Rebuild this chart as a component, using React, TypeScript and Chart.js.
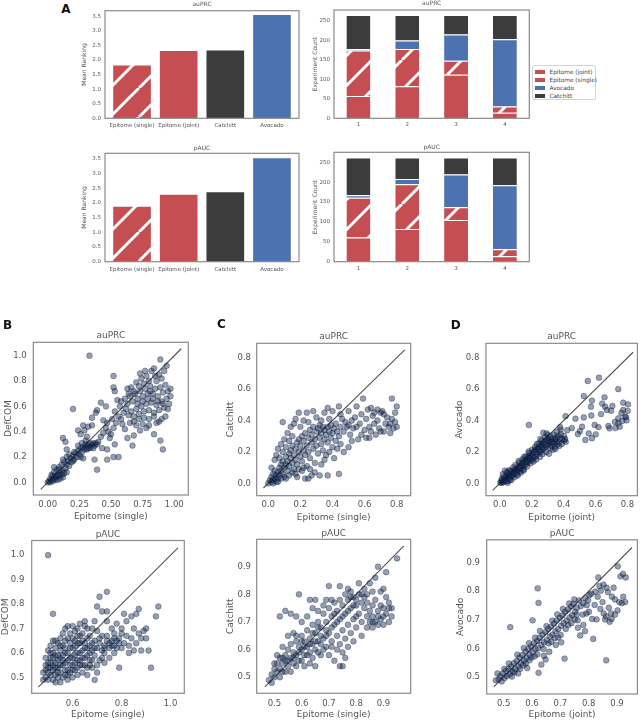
import React, { useEffect, useRef } from "react";
import { Chart, registerables } from "chart.js";

Chart.register(...registerables);

const FONT = "'DejaVu Sans', 'Liberation Sans', sans-serif";
const TEXT = "#555555";
const RED = "#C44E52";
const BLUE = "#4C72B0";
const DARK = "#3C3C3C";

// ---------- Panel A data ----------
const rankMethods = ["Epitome (single)", "Epitome (joint)", "Catchitt", "Avocado"];
const rankAuprc = [1.8, 2.3, 2.31, 3.53];
const rankPauc = [1.86, 2.27, 2.35, 3.51];
const rankTicks = [0, 0.5, 1, 1.5, 2, 2.5, 3, 3.5];
const rankSlots = [0, 1, 2, 3];

const rankPositions = ["1", "2", "3", "4"];
const stackMethods = ["Epitome (joint)", "Epitome (single)", "Avocado", "Catchitt"];
const auprcJoint = [57, 82, 112, 14];
const auprcSingle = [117, 96, 36, 16];
const auprcAvocado = [3, 22, 67, 173];
const auprcCatchitt = [88, 65, 50, 62];
const paucJoint = [61, 82, 105, 14];
const paucSingle = [100, 113, 32, 17];
const paucAvocado = [6, 13, 82, 161];
const paucCatchitt = [95, 54, 43, 70];
const countTicks = [0, 50, 100, 150, 200, 250];

// ---------- Scatter data ----------
const bAuprc = [
  [0.00,0.00],[0.01,0.01],[0.02,0.03],[0.02,0.00],[0.03,0.02],[0.04,0.05],[0.04,0.01],[0.05,0.03],[0.06,0.05],[0.06,0.02],
  [0.07,0.04],[0.08,0.06],[0.08,0.02],[0.09,0.05],[0.10,0.08],[0.10,0.03],[0.11,0.06],[0.12,0.09],[0.12,0.04],[0.13,0.07],
  [0.14,0.11],[0.15,0.08],[0.03,0.06],[0.05,0.08],[0.07,0.10],[0.09,0.12],[0.05,0.12],[0.09,0.10],[0.11,0.14],[0.13,0.16],
  [0.15,0.14],[0.16,0.17],[0.17,0.13],[0.18,0.19],[0.19,0.16],[0.20,0.21],[0.21,0.18],[0.22,0.23],[0.23,0.20],[0.24,0.25],
  [0.25,0.22],[0.26,0.27],[0.27,0.24],[0.28,0.28],[0.29,0.26],[0.30,0.30],[0.31,0.27],[0.32,0.29],[0.33,0.31],[0.34,0.28],
  [0.35,0.30],[0.36,0.31],[0.37,0.29],[0.38,0.31],[0.39,0.30],[0.40,0.32],[0.24,0.29],[0.27,0.31],[0.30,0.33],[0.33,0.27],
  [0.36,0.27],[0.21,0.24],[0.26,0.20],[0.12,0.35],[0.14,0.32],[0.15,0.26],[0.17,0.22],[0.12,0.18],[0.15,0.20],[0.20,0.17],
  [0.24,0.41],[0.28,0.45],[0.32,0.44],[0.35,0.45],[0.29,0.41],[0.35,0.51],[0.39,0.57],[0.42,0.63],[0.46,0.60],[0.38,0.55],
  [0.44,0.49],[0.47,0.47],[0.51,0.50],[0.53,0.56],[0.55,0.65],[0.57,0.60],[0.20,0.58],[0.33,1.00],[0.52,0.84],[0.52,0.75],
  [0.53,0.72],[0.26,0.38],[0.31,0.36],[0.37,0.18],[0.39,0.10],[0.47,0.18],[0.52,0.20],[0.56,0.20],[0.53,0.30],[0.43,0.27],
  [0.47,0.26],[0.31,0.26],[0.28,0.19],[0.42,0.36],[0.44,0.39],[0.46,0.43],[0.48,0.40],[0.50,0.38],[0.49,0.35],[0.52,0.43],
  [0.54,0.47],[0.56,0.52],[0.58,0.50],[0.60,0.55],[0.59,0.46],[0.62,0.58],[0.61,0.42],[0.67,0.29],[0.63,0.35],[0.68,0.37],
  [0.73,0.41],[0.78,0.43],[0.84,0.38],[0.89,0.33],[0.91,0.26],[0.86,0.47],[0.88,0.48],[0.80,0.45],[0.75,0.46],[0.70,0.45],
  [0.65,0.47],[0.64,0.53],[0.66,0.56],[0.68,0.52],[0.70,0.58],[0.72,0.54],[0.74,0.60],[0.76,0.56],[0.78,0.62],[0.80,0.57],
  [0.82,0.63],[0.84,0.55],[0.86,0.61],[0.88,0.57],[0.90,0.64],[0.92,0.59],[0.94,0.66],[0.96,0.62],[0.63,0.62],[0.65,0.68],
  [0.67,0.64],[0.69,0.70],[0.71,0.66],[0.73,0.72],[0.75,0.68],[0.77,0.74],[0.79,0.70],[0.81,0.76],[0.83,0.70],[0.85,0.74],
  [0.87,0.68],[0.89,0.75],[0.91,0.71],[0.93,0.77],[0.95,0.72],[0.97,0.68],[0.66,0.75],[0.70,0.79],[0.74,0.82],[0.78,0.84],
  [0.82,0.88],[0.86,0.80],[0.88,0.85],[0.90,0.82],[0.92,0.88],[0.94,0.92],[0.89,0.97],[0.84,0.90],[0.80,0.80],[0.76,0.78],
  [0.72,0.76],[0.68,0.72],[0.64,0.70],[0.61,0.66],[0.58,0.64],[0.71,0.62],[0.75,0.64],[0.79,0.66],[0.83,0.66],[0.87,0.64],
  [0.91,0.62],[0.95,0.58],[0.93,0.52],[0.90,0.50],[0.84,0.52],[0.80,0.50],[0.76,0.51],[0.72,0.50],[0.68,0.48],[0.97,0.74],
  [0.73,0.86],[0.77,0.88],[0.81,0.72],[0.85,0.84],[0.63,0.74]
];
const bPauc = [
  [0.48,0.49],[0.49,0.50],[0.50,0.49],[0.50,0.52],[0.51,0.51],[0.51,0.54],[0.52,0.49],[0.52,0.53],[0.53,0.51],[0.53,0.56],
  [0.54,0.50],[0.54,0.54],[0.55,0.52],[0.55,0.58],[0.56,0.50],[0.56,0.55],[0.57,0.53],[0.57,0.60],[0.58,0.51],[0.58,0.57],
  [0.59,0.55],[0.59,0.62],[0.60,0.53],[0.60,0.58],[0.61,0.56],[0.61,0.63],[0.62,0.54],[0.62,0.60],[0.63,0.57],[0.63,0.64],
  [0.64,0.55],[0.64,0.61],[0.65,0.58],[0.66,0.62],[0.66,0.54],[0.67,0.60],[0.68,0.57],[0.68,0.64],[0.69,0.59],[0.70,0.62],
  [0.70,0.55],[0.71,0.64],[0.72,0.58],[0.72,0.61],[0.73,0.63],[0.49,0.53],[0.50,0.56],[0.51,0.58],[0.52,0.60],[0.53,0.62],
  [0.54,0.64],[0.55,0.61],[0.56,0.63],[0.57,0.65],[0.58,0.66],[0.49,0.58],[0.50,0.61],[0.51,0.63],[0.52,0.65],[0.53,0.59],
  [0.55,0.66],[0.56,0.68],[0.57,0.70],[0.58,0.71],[0.59,0.68],[0.60,0.66],[0.61,0.69],[0.62,0.70],[0.63,0.72],[0.64,0.68],
  [0.65,0.73],[0.66,0.70],[0.67,0.67],[0.68,0.70],[0.69,0.73],[0.70,0.79],[0.71,0.83],[0.74,0.85],[0.72,0.77],[0.74,0.77],
  [0.74,0.73],[0.50,1.00],[0.52,0.76],[0.54,0.57],[0.56,0.59],[0.58,0.60],[0.60,0.62],[0.62,0.64],[0.64,0.65],[0.66,0.66],
  [0.52,0.55],[0.54,0.52],[0.57,0.56],[0.59,0.58],[0.61,0.59],[0.63,0.60],[0.65,0.62],[0.67,0.63],[0.69,0.65],[0.71,0.66],
  [0.73,0.60],[0.75,0.62],[0.76,0.65],[0.77,0.68],[0.78,0.62],[0.79,0.66],[0.80,0.70],[0.81,0.64],[0.82,0.67],[0.83,0.63],
  [0.84,0.66],[0.85,0.70],[0.86,0.64],[0.87,0.68],[0.88,0.61],[0.90,0.70],[0.90,0.66],[0.91,0.61],[0.86,0.76],[0.84,0.75],
  [0.81,0.76],[0.87,0.78],[0.95,0.79],[0.94,0.75],[0.92,0.54],[0.79,0.54],[0.75,0.58],[0.77,0.60],[0.74,0.67],[0.76,0.70],
  [0.78,0.72],[0.80,0.68],[0.82,0.73],[0.80,0.62],[0.83,0.60],[0.70,0.52],[0.69,0.49],[0.66,0.51],[0.64,0.52],[0.62,0.51],
  [0.60,0.50],[0.58,0.49],[0.55,0.48],[0.53,0.48],[0.68,0.54],[0.67,0.57],[0.71,0.57],[0.73,0.56],[0.76,0.63],[0.78,0.65],
  [0.72,0.67],[0.70,0.69],[0.65,0.64],[0.63,0.67],[0.61,0.65],[0.59,0.64],[0.57,0.62],[0.55,0.63],[0.53,0.65],[0.51,0.60],
  [0.48,0.52],[0.49,0.55],[0.50,0.54],[0.51,0.56],[0.52,0.58],[0.53,0.54],[0.54,0.59],[0.55,0.55],[0.56,0.57],[0.57,0.51],
  [0.58,0.53],[0.59,0.52],[0.60,0.55],[0.61,0.53],[0.62,0.57],[0.63,0.55],[0.64,0.58],[0.65,0.55],[0.66,0.59],[0.67,0.55],
  [0.68,0.61],[0.69,0.62],[0.73,0.62],[0.75,0.64],[0.77,0.63],[0.79,0.64],[0.74,0.65],[0.85,0.61],[0.88,0.66],[0.89,0.69],
  [0.77,0.66],[0.60,0.71],[0.65,0.71],[0.62,0.67]
];
const cAuprc = [
  [0.00,0.00],[0.01,0.02],[0.02,0.01],[0.02,0.04],[0.03,0.02],[0.03,0.06],[0.04,0.03],[0.04,0.08],[0.05,0.05],[0.05,0.01],
  [0.06,0.07],[0.06,0.03],[0.07,0.10],[0.07,0.05],[0.08,0.08],[0.08,0.12],[0.09,0.06],[0.09,0.14],[0.10,0.10],[0.10,0.04],
  [0.11,0.12],[0.11,0.17],[0.12,0.08],[0.12,0.14],[0.13,0.19],[0.13,0.11],[0.14,0.16],[0.14,0.21],[0.15,0.13],[0.15,0.24],
  [0.16,0.18],[0.16,0.09],[0.17,0.22],[0.17,0.15],[0.18,0.26],[0.18,0.12],[0.19,0.20],[0.19,0.28],[0.20,0.17],[0.20,0.24],
  [0.21,0.14],[0.21,0.30],[0.22,0.21],[0.22,0.27],[0.23,0.18],[0.23,0.32],[0.24,0.24],[0.24,0.11],[0.25,0.29],[0.25,0.20],
  [0.26,0.34],[0.26,0.16],[0.27,0.26],[0.27,0.31],[0.28,0.22],[0.28,0.36],[0.29,0.28],[0.29,0.13],[0.30,0.33],[0.30,0.24],
  [0.31,0.19],[0.31,0.35],[0.32,0.29],[0.32,0.37],[0.33,0.25],[0.33,0.32],[0.34,0.21],[0.34,0.36],[0.35,0.28],[0.35,0.34],
  [0.36,0.31],[0.36,0.18],[0.37,0.36],[0.37,0.26],[0.38,0.33],[0.39,0.29],[0.39,0.37],[0.40,0.23],[0.40,0.32],[0.41,0.35],
  [0.42,0.27],[0.42,0.38],[0.43,0.33],[0.44,0.30],[0.45,0.36],[0.45,0.25],[0.02,0.10],[0.04,0.15],[0.05,0.18],[0.06,0.22],
  [0.07,0.16],[0.08,0.25],[0.09,0.20],[0.09,0.39],[0.10,0.28],[0.11,0.23],[0.12,0.32],[0.13,0.27],[0.14,0.36],[0.15,0.30],
  [0.16,0.38],[0.17,0.41],[0.19,0.45],[0.20,0.36],[0.22,0.40],[0.24,0.45],[0.25,0.39],[0.28,0.46],[0.30,0.42],[0.33,0.40],
  [0.35,0.45],[0.37,0.48],[0.40,0.46],[0.44,0.49],[0.45,0.44],[0.38,0.41],[0.03,0.00],[0.06,0.01],[0.08,0.03],[0.11,0.03],
  [0.13,0.05],[0.15,0.07],[0.17,0.06],[0.19,0.09],[0.21,0.08],[0.23,0.03],[0.25,0.03],[0.27,0.05],[0.32,0.05],[0.37,0.05],
  [0.44,0.06],[0.22,0.10],[0.18,0.04],[0.26,0.09],[0.29,0.07],[0.33,0.12],[0.35,0.15],[0.38,0.20],[0.41,0.16],[0.43,0.22],
  [0.47,0.20],[0.50,0.23],[0.52,0.27],[0.47,0.33],[0.48,0.39],[0.49,0.36],[0.50,0.46],[0.51,0.31],[0.52,0.40],[0.53,0.35],
  [0.54,0.42],[0.55,0.49],[0.56,0.28],[0.57,0.38],[0.58,0.44],[0.59,0.54],[0.60,0.34],[0.61,0.29],[0.61,0.41],[0.62,0.47],
  [0.63,0.36],[0.64,0.33],[0.65,0.43],[0.66,0.38],[0.67,0.31],[0.68,0.47],[0.68,0.40],[0.69,0.35],[0.70,0.45],[0.71,0.46],
  [0.72,0.33],[0.73,0.38],[0.74,0.42],[0.75,0.36],[0.76,0.32],[0.77,0.54],[0.77,0.41],[0.78,0.35],[0.79,0.39],[0.80,0.49],
  [0.80,0.36],[0.79,0.45],[0.55,0.36],[0.58,0.31],[0.63,0.29],[0.46,0.41],[0.50,0.37],[0.72,0.44],[0.66,0.45],[0.76,0.38],
  [0.70,0.33],[0.64,0.48]
];
const cPauc = [
  [0.48,0.49],[0.49,0.51],[0.50,0.50],[0.51,0.52],[0.50,0.55],[0.52,0.53],[0.52,0.57],[0.53,0.55],[0.53,0.52],[0.54,0.58],
  [0.54,0.56],[0.55,0.54],[0.55,0.60],[0.56,0.57],[0.56,0.62],[0.57,0.55],[0.57,0.59],[0.58,0.58],[0.58,0.63],[0.59,0.56],
  [0.59,0.61],[0.60,0.60],[0.60,0.65],[0.61,0.58],[0.61,0.63],[0.62,0.61],[0.62,0.67],[0.63,0.59],[0.63,0.64],[0.64,0.62],
  [0.64,0.69],[0.65,0.60],[0.65,0.66],[0.66,0.63],[0.66,0.70],[0.67,0.58],[0.67,0.68],[0.68,0.64],[0.68,0.73],[0.69,0.61],
  [0.69,0.70],[0.70,0.66],[0.70,0.75],[0.71,0.63],[0.71,0.72],[0.72,0.69],[0.72,0.77],[0.73,0.65],[0.73,0.74],[0.74,0.71],
  [0.74,0.78],[0.75,0.67],[0.75,0.76],[0.76,0.73],[0.76,0.80],[0.77,0.69],[0.77,0.78],[0.78,0.75],[0.78,0.81],[0.79,0.71],
  [0.79,0.79],[0.80,0.76],[0.80,0.68],[0.81,0.80],[0.81,0.73],[0.82,0.77],[0.82,0.70],[0.83,0.75],[0.83,0.79],[0.84,0.72],
  [0.84,0.77],[0.85,0.74],[0.85,0.70],[0.86,0.76],[0.86,0.72],[0.87,0.70],[0.87,0.86],[0.88,0.74],[0.88,0.90],[0.89,0.71],
  [0.89,0.81],[0.90,0.75],[0.90,0.69],[0.91,0.88],[0.91,0.73],[0.92,0.77],[0.92,0.70],[0.93,0.75],[0.95,0.93],[0.90,0.82],
  [0.85,0.84],[0.81,0.84],[0.77,0.82],[0.74,0.83],[0.70,0.83],[0.59,0.80],[0.52,0.72],[0.54,0.74],[0.56,0.73],[0.58,0.72],
  [0.57,0.66],[0.60,0.70],[0.62,0.72],[0.64,0.75],[0.66,0.74],[0.68,0.76],[0.69,0.78],[0.71,0.78],[0.63,0.78],[0.65,0.78],
  [0.55,0.65],[0.53,0.61],[0.51,0.58],[0.52,0.50],[0.56,0.52],[0.58,0.54],[0.60,0.56],[0.61,0.54],[0.63,0.55],[0.64,0.57],
  [0.65,0.54],[0.66,0.59],[0.67,0.62],[0.68,0.60],[0.69,0.65],[0.70,0.58],[0.71,0.61],[0.72,0.56],[0.73,0.60],[0.74,0.54],
  [0.74,0.62],[0.75,0.54],[0.75,0.59],[0.76,0.57],[0.76,0.64],[0.77,0.61],[0.78,0.66],[0.79,0.63],[0.80,0.72],[0.82,0.65],
  [0.84,0.68],[0.86,0.68],[0.88,0.69],[0.89,0.76],[0.91,0.79],[0.93,0.72],[0.87,0.78],[0.83,0.82],[0.79,0.76],[0.77,0.74],
  [0.73,0.70],[0.71,0.68],[0.69,0.67],[0.67,0.65],[0.65,0.63],[0.63,0.62],[0.61,0.61],[0.59,0.59],[0.57,0.57],[0.55,0.56],
  [0.53,0.57],[0.51,0.55],[0.50,0.53],[0.49,0.48],[0.54,0.52],[0.62,0.58],[0.72,0.73],[0.75,0.72],[0.78,0.79],[0.80,0.78],
  [0.82,0.80],[0.84,0.80],[0.86,0.81],[0.90,0.72],[0.92,0.75],[0.88,0.72],[0.86,0.70],[0.66,0.68],[0.64,0.66],[0.60,0.63],
  [0.58,0.65]
];
const dAuprc = [
  [0.003,0.004],[0.008,0.012],[0.012,0.002],[0.016,0.021],[0.021,0.009],[0.027,0.018],[0.031,0.033],[0.036,0.024],[0.040,0.047],[0.046,0.031],
  [0.052,0.014],[0.055,0.052],[0.061,0.036],[0.066,0.061],[0.071,0.043],[0.077,0.072],[0.082,0.051],[0.087,0.083],[0.092,0.064],[0.098,0.091],
  [0.103,0.071],[0.108,0.082],[0.113,0.104],[0.119,0.097],[0.124,0.076],[0.128,0.113],[0.133,0.092],[0.139,0.126],[0.144,0.104],[0.149,0.137],
  [0.153,0.112],[0.158,0.149],[0.164,0.121],[0.169,0.157],[0.173,0.134],[0.178,0.168],[0.184,0.142],[0.189,0.176],[0.193,0.153],[0.199,0.187],
  [0.204,0.148],[0.209,0.196],[0.214,0.163],[0.219,0.211],[0.224,0.172],[0.229,0.218],[0.234,0.184],[0.241,0.227],[0.245,0.196],[0.251,0.238],
  [0.256,0.203],[0.262,0.246],[0.266,0.214],[0.271,0.257],[0.276,0.222],[0.282,0.266],[0.287,0.232],[0.292,0.278],[0.297,0.241],[0.303,0.287],
  [0.307,0.252],[0.312,0.263],[0.316,0.224],[0.322,0.274],[0.326,0.238],[0.332,0.285],[0.337,0.253],[0.342,0.262],[0.346,0.232],[0.352,0.274],
  [0.356,0.293],[0.361,0.248],[0.366,0.304],[0.371,0.262],[0.376,0.284],[0.382,0.313],[0.391,0.281],[0.402,0.302],[0.413,0.264],[0.018,0.058],
  [0.043,0.071],[0.058,0.083],[0.083,0.102],[0.097,0.118],[0.122,0.131],[0.141,0.153],[0.162,0.172],[0.183,0.193],[0.203,0.214],[0.221,0.232],
  [0.243,0.254],[0.262,0.273],[0.283,0.294],[0.301,0.309],[0.272,0.322],[0.293,0.318],[0.254,0.283],[0.232,0.251],[0.181,0.204],[0.152,0.168],
  [0.118,0.142],[0.032,0.081],[0.051,0.068],[0.048,0.003],[0.072,0.021],[0.091,0.038],[0.112,0.049],[0.131,0.068],[0.151,0.088],[0.171,0.107],
  [0.192,0.128],[0.211,0.139],[0.228,0.152],[0.252,0.168],[0.268,0.187],[0.291,0.199],[0.308,0.188],[0.331,0.213],[0.348,0.219],[0.372,0.238],
  [0.388,0.251],[0.404,0.273],[0.182,0.372],[0.412,0.428],[0.381,0.342],[0.422,0.338],[0.409,0.283],[0.378,0.358],[0.357,0.327],[0.338,0.309],
  [0.318,0.298],[0.011,0.028],[0.024,0.041],[0.034,0.012],[0.063,0.022],[0.068,0.079],[0.086,0.061],[0.107,0.058],[0.126,0.101],[0.147,0.081],
  [0.167,0.139],[0.188,0.159],[0.207,0.171],[0.226,0.198],[0.248,0.212],[0.267,0.231],[0.286,0.248],[0.305,0.271],[0.327,0.262],[0.346,0.283],
  [0.551,0.652],[0.621,0.673],[0.526,0.556],[0.742,0.600],[0.656,0.548],[0.577,0.527],[0.571,0.488],[0.705,0.493],[0.773,0.514],[0.660,0.488],
  [0.670,0.467],[0.697,0.463],[0.773,0.467],[0.762,0.448],[0.742,0.414],[0.784,0.425],[0.742,0.382],[0.680,0.365],[0.687,0.350],[0.767,0.397],
  [0.791,0.421],[0.801,0.462],[0.803,0.503],[0.751,0.361],[0.724,0.352],[0.474,0.412],[0.526,0.420],[0.515,0.361],[0.594,0.372],[0.557,0.318],
  [0.489,0.314],[0.536,0.276],[0.577,0.287],[0.601,0.312],[0.618,0.358],[0.502,0.333],[0.573,0.432],[0.451,0.352],[0.634,0.441],[0.641,0.508],
  [0.721,0.391],[0.794,0.401]
];
const dPauc = [
  [0.482,0.491],[0.488,0.503],[0.493,0.484],[0.497,0.512],[0.503,0.496],[0.508,0.521],[0.511,0.503],[0.517,0.528],[0.522,0.509],[0.526,0.537],
  [0.531,0.518],[0.536,0.548],[0.541,0.527],[0.546,0.556],[0.552,0.536],[0.556,0.568],[0.561,0.548],[0.566,0.577],[0.572,0.557],[0.577,0.589],
  [0.581,0.566],[0.587,0.598],[0.592,0.577],[0.597,0.607],[0.603,0.586],[0.607,0.618],[0.612,0.597],[0.618,0.626],[0.622,0.601],[0.627,0.637],
  [0.633,0.612],[0.637,0.648],[0.642,0.621],[0.648,0.657],[0.652,0.629],[0.657,0.668],[0.663,0.641],[0.667,0.676],[0.672,0.648],[0.678,0.687],
  [0.683,0.659],[0.687,0.698],[0.692,0.667],[0.698,0.707],[0.703,0.679],[0.708,0.716],[0.712,0.688],[0.717,0.728],[0.722,0.697],[0.727,0.736],
  [0.733,0.708],[0.738,0.747],[0.742,0.716],[0.747,0.756],[0.752,0.728],[0.758,0.741],[0.766,0.768],[0.772,0.748],[0.781,0.758],[0.788,0.776],
  [0.793,0.751],[0.798,0.768],[0.803,0.787],[0.502,0.528],[0.518,0.547],[0.538,0.516],[0.558,0.528],[0.578,0.547],[0.598,0.568],[0.619,0.579],
  [0.641,0.598],[0.659,0.617],[0.681,0.636],[0.701,0.647],[0.719,0.668],[0.739,0.688],[0.761,0.698],[0.779,0.718],[0.548,0.578],[0.571,0.601],
  [0.589,0.618],[0.611,0.637],[0.628,0.661],[0.651,0.678],[0.671,0.697],[0.689,0.719],[0.709,0.738],[0.731,0.757],[0.749,0.771],[0.620,0.810],
  [0.623,0.759],[0.602,0.698],[0.523,0.674],[0.715,0.564],[0.862,0.558],[0.648,0.561],[0.623,0.514],[0.633,0.543],[0.661,0.588],[0.684,0.612],
  [0.703,0.621],[0.816,0.633],[0.770,0.645],[0.787,0.660],[0.781,0.682],[0.812,0.703],[0.801,0.728],[0.821,0.752],[0.832,0.781],[0.834,0.848],
  [0.843,0.802],[0.852,0.823],[0.849,0.762],[0.858,0.701],[0.863,0.812],[0.871,0.742],[0.874,0.693],[0.882,0.781],[0.879,0.722],[0.893,0.771],
  [0.888,0.812],[0.902,0.733],[0.903,0.887],[0.912,0.852],[0.908,0.762],[0.921,0.861],[0.917,0.758],[0.931,0.848],[0.929,0.762],[0.922,0.781],
  [0.893,0.718],[0.881,0.703],[0.862,0.712],[0.841,0.738],[0.823,0.798],[0.809,0.791],[0.838,0.818],[0.868,0.797],[0.792,0.722],[0.762,0.672],
  [0.751,0.701],[0.828,0.701],[0.853,0.722],[0.472,0.488],[0.478,0.512],[0.529,0.501],[0.583,0.531],[0.609,0.572],[0.642,0.574],[0.668,0.623],
  [0.692,0.638],[0.728,0.682],[0.758,0.718],[0.551,0.512],[0.569,0.541],[0.591,0.558]
];

// tick values
const ticksQuarter = [0, 0.25, 0.5, 0.75, 1.0];
const ticksFifth = [0, 0.2, 0.4, 0.6, 0.8, 1.0];
const ticksFifthTo08 = [0, 0.2, 0.4, 0.6, 0.8];
const ticksB2x = [0.6, 0.8, 1.0];
const ticksB2y = [0.5, 0.6, 0.7, 0.8, 0.9, 1.0];
const ticksTenth = [0.5, 0.6, 0.7, 0.8, 0.9];

// ---------- helpers ----------
function geom(box: number[], left: number, top: number, right: number, bottom: number) {
  const [x0, y0, x1, y1] = box;
  const cl = Math.round(x0 - left);
  const ct = Math.round(y0 - top);
  const w = Math.round(x1 + right) - cl;
  const h = Math.round(y1 + bottom) - ct;
  return { cl, ct, w, h, left: x0 - cl, top: y0 - ct, right: cl + w - x1, bottom: ct + h - y1 };
}

const framePlugin = {
  id: "frame",
  afterDraw(chart: any) {
    const { ctx, chartArea: a } = chart;
    ctx.save();
    ctx.strokeStyle = "#8a8a8a";
    ctx.lineWidth = 1.2;
    ctx.strokeRect(a.left, a.top, a.right - a.left, a.bottom - a.top);
    ctx.restore();
  },
};

function makeHatch(target: HTMLCanvasElement, base: string, size: number, lw: number) {
  const c = document.createElement("canvas");
  c.width = size;
  c.height = size;
  const x = c.getContext("2d")!;
  x.fillStyle = base;
  x.fillRect(0, 0, size, size);
  x.strokeStyle = "#ffffff";
  x.lineWidth = lw;
  x.beginPath();
  for (const o of [-size, 0, size]) {
    x.moveTo(o, size);
    x.lineTo(o + size, 0);
  }
  x.stroke();
  return target.getContext("2d")!.createPattern(c, "repeat");
}

function ChartBox({ g, build }: any) {
  const ref = useRef<HTMLCanvasElement>(null);
  useEffect(() => {
    const canvas = ref.current!;
    const chart = new Chart(canvas, build(canvas));
    return () => chart.destroy();
  }, []);
  return (
    <canvas
      ref={ref}
      width={g.w}
      height={g.h}
      style={{ position: "absolute", left: g.cl, top: g.ct, width: g.w, height: g.h }}
    />
  );
}

const font = (size: number) => ({ family: FONT, size, weight: "normal" as const, lineHeight: 1.2 });

function axisCommon(g: any, isX: boolean, values: number[], labelFn: (v: number) => string, pad: number, size: number, title: string | null, titleSize: number) {
  return {
    grid: { display: false, drawTicks: false },
    border: { display: false },
    afterBuildTicks: (s: any) => {
      s.ticks = values.map((v) => ({ value: v }));
    },
    afterFit: (s: any) => {
      if (isX) s.height = g.bottom;
      else s.width = g.left;
    },
    ticks: { color: TEXT, font: font(size), padding: pad, autoSkip: false, maxRotation: 0, callback: (v: any) => labelFn(Number(v)) },
    title: title ? { display: true, text: title, color: TEXT, font: font(titleSize), padding: 0 } : { display: false },
  };
}

// ---------- Panel A: mean ranking bars ----------
function rankBuild(values: number[], title: string, g: any, xtpad: number) {
  return (canvas: HTMLCanvasElement) => {
    const hatch = makeHatch(canvas, RED, 29, 3);
    return {
      type: "bar",
      data: {
        datasets: [
          {
            data: values.map((v, i) => ({ x: rankSlots[i], y: v })),
            backgroundColor: [hatch, RED, DARK, BLUE],
            barThickness: 37,
            borderWidth: 0,
          },
        ],
      },
      options: {
        responsive: false,
        animation: false,
        events: [],
        layout: { padding: { left: 0, top: 0, right: g.right, bottom: 0 } },
        plugins: {
          legend: { display: false },
          tooltip: { enabled: false },
          title: { display: true, text: title, color: TEXT, font: font(6), padding: { top: 0, bottom: g.top - 7.2 }, fullSize: false },
        },
        scales: {
          x: { type: "linear", min: -0.58, max: 3.58, offset: false, ...axisCommon(g, true, rankSlots, (v) => rankMethods[v], xtpad, 5.5, null, 6) },
          y: { type: "linear", min: 0, max: 3.69, ...axisCommon(g, false, rankTicks, (v) => v.toFixed(1), 4, 5.5, "Mean Ranking", 6) },
        },
      },
      plugins: [framePlugin],
    } as any;
  };
}

function stackBuild(series: number[][], title: string, g: any, ymax: number, xtpad: number) {
  return (canvas: HTMLCanvasElement) => {
    const hatch = makeHatch(canvas, RED, 30, 3);
    const colors = [RED, hatch, BLUE, DARK];
    return {
      type: "bar",
      data: {
        labels: rankPositions,
        datasets: stackMethods.map((m, i) => ({
          label: m,
          data: series[i],
          backgroundColor: colors[i],
          borderColor: "rgba(255,255,255,0.7)",
          borderWidth: { top: 1, left: 0, right: 0, bottom: 0 },
          barPercentage: 0.49,
          categoryPercentage: 1,
        })),
      },
      options: {
        responsive: false,
        animation: false,
        events: [],
        layout: { padding: { left: 0, top: 0, right: g.right, bottom: 0 } },
        plugins: {
          legend: { display: false },
          tooltip: { enabled: false },
          title: { display: true, text: title, color: TEXT, font: font(6), padding: { top: 0, bottom: g.top - 7.2 }, fullSize: false },
        },
        scales: {
          x: {
            type: "category",
            stacked: true,
            offset: true,
            grid: { display: false, drawTicks: false },
            border: { display: false },
            afterFit: (s: any) => {
              s.height = g.bottom;
            },
            ticks: { color: TEXT, font: font(5.5), padding: xtpad, maxRotation: 0 },
          },
          y: { type: "linear", stacked: true, min: 0, max: ymax, ...axisCommon(g, false, countTicks, (v) => String(v), 4, 5.5, "Experiment Count", 6) },
        },
      },
      plugins: [framePlugin],
    } as any;
  };
}

// ---------- scatter panels ----------
function scatterSpec(p: any) {
  const [x0, y0, x1, y1] = p.box;
  const g = geom(p.box, x0 - (p.ylab - 5.4), y0 - p.titleC + 5.4, p.right, p.xlabC - y1 + 5.4);
  const xtpad = p.xtC - y1 - 5.1;
  const ytpad = x0 - p.ytRight;
  const build = (canvas: HTMLCanvasElement) =>
    ({
      type: "scatter",
      data: {
        datasets: [
          {
            data: p.points.map((q: number[]) => ({ x: q[0], y: q[1] })),
            pointRadius: 2.9,
            backgroundColor: "rgba(20,45,95,0.46)",
            borderColor: "rgba(0,0,0,0.45)",
            borderWidth: 0.6,
          },
          {
            data: [
              { x: p.diag[0], y: p.diag[0] },
              { x: p.diag[1], y: p.diag[1] },
            ],
            showLine: true,
            pointRadius: 0,
            borderColor: "#555555",
            borderWidth: 1.1,
          },
        ],
      },
      options: {
        responsive: false,
        animation: false,
        events: [],
        layout: { padding: { left: 0, top: 0, right: g.right, bottom: 0 } },
        plugins: {
          legend: { display: false },
          tooltip: { enabled: false },
          title: { display: true, text: p.title, color: TEXT, font: font(9), padding: { top: 0, bottom: Math.max(0, g.top - 10.8) }, fullSize: false },
        },
        scales: {
          x: { type: "linear", min: p.xr[0], max: p.xr[1], ...axisCommon(g, true, p.xt, (v) => v.toFixed(p.xdec), xtpad, 8.5, p.xlabel, 9) },
          y: { type: "linear", min: p.yr[0], max: p.yr[1], ...axisCommon(g, false, p.yt, (v) => v.toFixed(1), ytpad, 8.5, p.ylabel, 9) },
        },
      },
      plugins: [framePlugin],
    } as any);
  return { g, build };
}

const scatterPanels = [
  { box: [33.3, 342.3, 188.3, 495], ylab: 8.3, titleC: 335, xlabC: 516.7, xtC: 504.5, ytRight: 26.7, right: 14,
    xr: [-0.114, 1.111], yr: [-0.1, 1.106], xt: ticksQuarter, yt: ticksFifth, xdec: 2, diag: [-0.055, 1.055],
    title: "auPRC", xlabel: "Epitome (single)", ylabel: "DefCOM", points: bAuprc },
  { box: [31.7, 539.3, 184.3, 693.3], ylab: 5.5, titleC: 533.3, xlabC: 714.3, xtC: 704, ytRight: 24.3, right: 14,
    xr: [0.433, 1.056], yr: [0.435, 1.06], xt: ticksB2x, yt: ticksB2y, xdec: 1, diag: [0.46, 1.03],
    title: "pAUC", xlabel: "Epitome (single)", ylabel: "DefCOM", points: bPauc },
  { box: [256.7, 343.3, 410.7, 495.7], ylab: 230, titleC: 336, xlabC: 517.7, xtC: 504.5, ytRight: 251, right: 14,
    xr: [-0.072, 0.887], yr: [-0.079, 0.892], xt: ticksFifthTo08, yt: ticksFifthTo08, xdec: 1, diag: [-0.03, 0.85],
    title: "auPRC", xlabel: "Epitome (single)", ylabel: "Catchitt", points: cAuprc },
  { box: [256.7, 539.3, 410.7, 693.3], ylab: 230, titleC: 533.3, xlabC: 714.3, xtC: 704, ytRight: 251, right: 14,
    xr: [0.435, 1.0], yr: [0.442, 0.999], xt: ticksTenth, yt: ticksTenth, xdec: 1, diag: [0.465, 0.975],
    title: "pAUC", xlabel: "Epitome (single)", ylabel: "Catchitt", points: cPauc },
  { box: [486, 343.3, 639.3, 495.7], ylab: 459.3, titleC: 336, xlabC: 517.7, xtC: 504.5, ytRight: 479.3, right: 2.5,
    xr: [-0.087, 0.862], yr: [-0.079, 0.892], xt: ticksFifthTo08, yt: ticksFifthTo08, xdec: 1, diag: [-0.045, 0.835],
    title: "auPRC", xlabel: "Epitome (joint)", ylabel: "Avocado", points: dAuprc },
  { box: [486.7, 539.3, 640, 694], ylab: 460, titleC: 533.3, xlabC: 714.3, xtC: 704, ytRight: 480, right: 1.8,
    xr: [0.44, 0.972], yr: [0.44, 0.98], xt: ticksTenth, yt: ticksTenth, xdec: 1, diag: [0.465, 0.953],
    title: "pAUC", xlabel: "Epitome (joint)", ylabel: "Avocado", points: dPauc },
];

const gA1 = geom([105, 10.7, 299, 118.3], 23.6, 9.3, 8, 16);
const gA3 = geom([105, 153.3, 299, 261.7], 23.6, 8.6, 8, 16);
const gA2 = geom([334, 10, 529.3, 118.3], 21.6, 9.6, 2, 14);
const gA4 = geom([334, 152.3, 529.3, 261.7], 21.6, 8.2, 2, 14);

const legendColors = [RED, RED, BLUE, DARK];

function Letter({ text, x, y }: any) {
  return (
    <div
      style={{
        position: "absolute",
        left: x,
        top: y,
        transform: "translate(-50%, -50%)",
        fontFamily: FONT,
        fontWeight: "bold",
        fontSize: 12,
        lineHeight: "12px",
        color: "#111",
      }}
    >
      {text}
    </div>
  );
}

export default function App() {
  const scatters = scatterPanels.map((p) => scatterSpec(p));
  return (
    <div style={{ position: "absolute", left: 0, top: 0, width: 642, height: 720, background: "#ffffff", overflow: "hidden" }}>
      <ChartBox g={gA1} build={rankBuild(rankAuprc, "auPRC", gA1, 4.4)} />
      <ChartBox g={gA3} build={rankBuild(rankPauc, "pAUC", gA3, 5.0)} />
      <ChartBox g={gA2} build={stackBuild([auprcJoint, auprcSingle, auprcAvocado, auprcCatchitt], "auPRC", gA2, 278, 3.4)} />
      <ChartBox g={gA4} build={stackBuild([paucJoint, paucSingle, paucAvocado, paucCatchitt], "pAUC", gA4, 275, 3.3)} />
      {scatters.map((s, i) => (
        <ChartBox key={i} g={s.g} build={s.build} />
      ))}
      <div
        style={{
          position: "absolute",
          left: 532,
          top: 65,
          width: 64,
          height: 35,
          border: "1px solid #d4d4d4",
          borderRadius: 2,
          boxSizing: "border-box",
          background: "#fff",
        }}
      >
        {stackMethods.map((m, i) => (
          <React.Fragment key={m}>
            <div
              style={{
                position: "absolute",
                left: 1.5,
                top: 4.2 + i * 8,
                width: 10.5,
                height: 3.6,
                background: legendColors[i],
              }}
            />
            <div
              style={{
                position: "absolute",
                left: 16.5,
                top: 1.8 + i * 8,
                fontFamily: FONT,
                fontSize: 5.8,
                lineHeight: "8px",
                color: "#444",
                whiteSpace: "nowrap",
              }}
            >
              {m}
            </div>
          </React.Fragment>
        ))}
      </div>
      <Letter text="A" x={66} y={9} />
      <Letter text="B" x={7.5} y={324.5} />
      <Letter text="C" x={221.3} y={324} />
      <Letter text="D" x={455.8} y={324.5} />
    </div>
  );
}
